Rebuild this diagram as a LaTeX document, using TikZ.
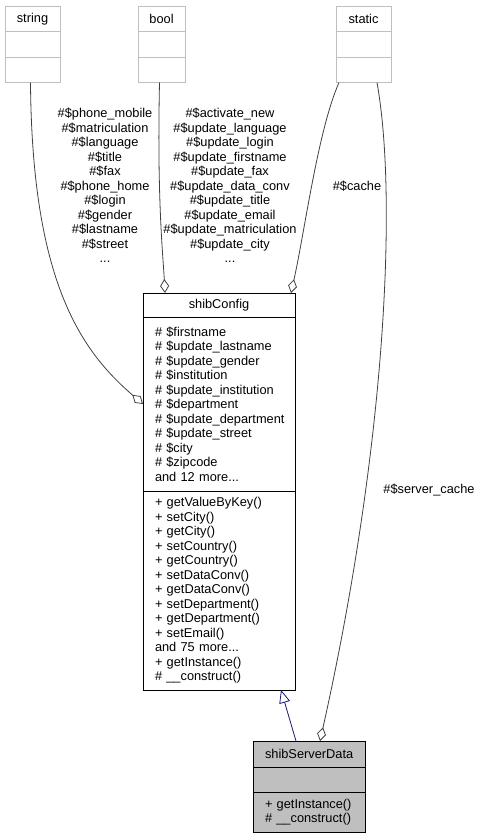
\documentclass[tikz,border=0pt]{standalone}
\usepackage{fontspec}
\newfontfamily\umlfont{Liberation Sans}
\usepackage{xcolor}
\usepackage{tikz}
\usetikzlibrary{positioning,arrows.meta}
\definecolor{boxgray}{HTML}{BFBFBF}
\definecolor{edgegray}{HTML}{404040}
\definecolor{inherit}{HTML}{191970}
\newcommand\umltext{\umlfont\fontsize{12.8}{14.5}\selectfont\hyphenpenalty=10000\relax\exhyphenpenalty=10000\relax}

\begin{document}
\begin{tikzpicture}[x=1pt,y=-1pt,
    uml/.style={font=\umltext,inner sep=0pt,outer sep=0pt},
    extcls/.style={uml,draw=boxgray,line width=0.9pt,fill=white,minimum width=#1,minimum height=25.5pt},
    cfgpart/.style={uml,draw=black,line width=0.9pt,fill=white,text width=128pt,inner xsep=12pt,align=left},
    srvpart/.style={uml,draw=black,line width=0.9pt,fill=boxgray,text width=88pt,inner xsep=12pt,align=left},
    aggr/.style={draw=edgegray,line width=0.8pt,-{Diamond[open,length=14pt,width=9pt]}},
    inh/.style={draw=inherit,line width=0.8pt,-{Triangle[open,length=13pt,width=11pt]}}]
  \useasboundingbox (0,0) rectangle (482,839);

  % referenced types
  \node[extcls=55pt,anchor=north west] (strHead) at (5,6) {string};
  \node[extcls=55pt,below=0pt of strHead] (strAttr) {};
  \node[extcls=55pt,below=0pt of strAttr] (strOps) {};
  \node[extcls=47pt,anchor=north west] (boolHead) at (138,6) {bool};
  \node[extcls=47pt,below=0pt of boolHead] (boolAttr) {};
  \node[extcls=47pt,below=0pt of boolAttr] (boolOps) {};
  \node[extcls=55pt,anchor=north west] (staticHead) at (336,6) {static};
  \node[extcls=55pt,below=0pt of staticHead] (staticAttr) {};
  \node[extcls=55pt,below=0pt of staticAttr] (staticOps) {};

  % shibConfig
  \node[cfgpart,align=center,minimum height=24pt,anchor=north west] (cfgHead) at (143,293) {shibConfig};
  \node[cfgpart,minimum height=174pt,below=0pt of cfgHead] (cfgAttr) {
    \# \$firstname\\\# \$update\_lastname\\\# \$update\_gender\\\# \$institution\\
    \# \$update\_institution\\\# \$department\\\mbox{\# \$update\_department}\\
    \# \$update\_street\\\# \$city\\\# \$zipcode\\and 12 more...};
  \node[cfgpart,minimum height=199pt,below=0pt of cfgAttr] (cfgOps) {
    + getValueByKey()\\+ setCity()\\+ getCity()\\+ setCountry()\\+ getCountry()\\
    + setDataConv()\\+ getDataConv()\\+ setDepartment()\\+ getDepartment()\\
    + setEmail()\\and 75 more...\\+ getInstance()\\\# \_\_construct()};

  % shibServerData
  \node[srvpart,align=center,minimum height=26pt,anchor=north west] (srvHead) at (253,741) {shibServerData};
  \node[srvpart,minimum height=25pt,below=0pt of srvHead] (srvAttr) {};
  \node[srvpart,minimum height=40pt,below=0pt of srvAttr] (srvOps) {+ getInstance()\\\# \_\_construct()};

  % relations
  \draw[aggr] ([xshift=-2pt]strOps.south) .. controls (32,280) and (80,350) .. (cfgAttr.west);
  \draw[aggr] ([xshift=-2pt]boolOps.south) .. controls (157,200) and (163,255) .. ([xshift=22pt]cfgHead.north west);
  \draw[aggr] ([xshift=3pt]staticOps.south west) .. controls (318,130) and (305,230) .. ([xshift=-4pt]cfgHead.north east);
  \draw[aggr] ([xshift=-14pt]staticOps.south east) .. controls (398,200) and (385,450) .. ([xshift=11pt]srvHead.north);
  \draw[inh] ([xshift=-13pt]srvHead.north) -- ([xshift=-14pt]cfgOps.south east);

  \node[uml,align=center] (strLbl) at (105,185.5) {\#\$phone\_mobile\\\#\$matriculation\\\#\$language\\\#\$title\\
    \#\$fax\\\#\$phone\_home\\\#\$login\\\#\$gender\\\#\$lastname\\\#\$street\\...};
  \node[uml,align=center] (boolLbl) at (230,185.5) {\#\$activate\_new\\\#\$update\_language\\\#\$update\_login\\
    \#\$update\_firstname\\\#\$update\_fax\\\#\$update\_data\_conv\\\#\$update\_title\\
    \#\$update\_email\\\#\$update\_matriculation\\\#\$update\_city\\...};
  \node[uml] (cacheLbl) at (357,186) {\#\$cache};
  \node[uml] (srvCacheLbl) at (429,490) {\#\$server\_cache};
\end{tikzpicture}
\end{document}
